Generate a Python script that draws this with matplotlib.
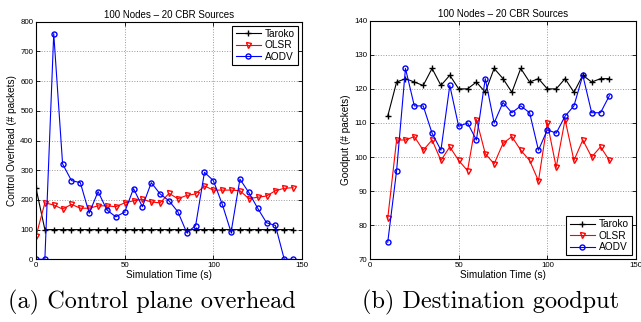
import matplotlib.pyplot as plt
import numpy as np

# control overhead (left)
t_left = list(range(0, 150, 5))
taroko_ovh = [240] + [100] * 29
olsr_ovh = [78, 190, 183, 169, 185, 172, 172, 180, 180, 177, 190, 197, 202, 193, 190,
            222, 204, 215, 220, 247, 233, 233, 233, 231, 204, 209, 213, 231, 239, 241]
aodv_ovh = [0, 0, 760, 321, 265, 258, 155, 228, 166, 143, 159, 238, 177, 258, 220,
            197, 160, 90, 113, 293, 265, 186, 91, 270, 225, 172, 123, 114, 0, 0]

# goodput (right)
t_right = list(range(10, 140, 5))
taroko_gp = [112, 122, 123, 122, 121, 126, 121, 124, 120, 120, 122, 119, 126,
             123, 119, 126, 122, 123, 120, 120, 123, 119, 124, 122, 123, 123]
olsr_gp = [82, 105, 105, 106, 102, 105, 99, 103, 99, 96, 111, 101, 98,
           104, 106, 102, 99, 93, 110, 97, 111, 99, 105, 100, 103, 99]
aodv_gp = [75, 96, 126, 115, 115, 107, 102, 121, 109, 110, 105, 123, 110,
           116, 113, 115, 113, 102, 108, 107, 112, 115, 124, 113, 113, 118]

plt.rcParams['font.family'] = ['Liberation Sans', 'DejaVu Sans']
plt.rcParams['font.size'] = 6

fig = plt.figure(figsize=(6.41, 3.22), dpi=100)
W, H = 641.0, 322.0
ax1 = fig.add_axes([36 / W, 1 - 259.3 / H, 266 / W, 237.6 / H])
ax2 = fig.add_axes([370 / W, 1 - 259.3 / H, 266 / W, 238.6 / H])


def style(ax):
    ax.grid(True, linestyle=':', color='#999999', linewidth=0.7)
    ax.tick_params(direction='in', length=3, width=0.6, labelsize=5.7, pad=2,
                   top=True, right=True)
    for s in ax.spines.values():
        s.set_linewidth(0.8)
    ax.set_xlabel('Simulation Time (s)', fontsize=7.2, labelpad=1)
    ax.set_title('100 Nodes \u2013 20 CBR Sources', fontsize=7, pad=3)


def draw(ax, x, a, b, c):
    ax.plot(x, a, color='black', marker='+', markersize=4, linewidth=0.8, label='Taroko')
    ax.plot(x, b, color='red', marker='v', markersize=3.6, markerfacecolor='none',
            linewidth=0.8, label='OLSR')
    ax.plot(x, c, color='blue', marker='o', markersize=3.6, markerfacecolor='none',
            linewidth=0.8, label='AODV')


draw(ax1, t_left, taroko_ovh, olsr_ovh, aodv_ovh)
ax1.set_xlim(0, 150)
ax1.set_ylim(0, 800)
ax1.set_xticks([0, 50, 100, 150])
ax1.set_yticks(range(0, 801, 100))
ax1.set_ylabel('Control Overhead (# packets)', fontsize=7.2, labelpad=2)
style(ax1)
lg1 = ax1.legend(loc='upper right', fontsize=7.3, fancybox=False, edgecolor='black',
                 framealpha=1, borderpad=0.3, labelspacing=0.15, handlelength=2.5,
                 handletextpad=0.4, borderaxespad=0.4)
lg1.get_frame().set_linewidth(0.8)

draw(ax2, t_right, taroko_gp, olsr_gp, aodv_gp)
ax2.set_xlim(0, 150)
ax2.set_ylim(70, 140)
ax2.set_xticks([0, 50, 100, 150])
ax2.set_yticks(range(70, 141, 10))
ax2.set_ylabel('Goodput (# packets)', fontsize=7.2, labelpad=2)
style(ax2)
lg2 = ax2.legend(loc='lower right', fontsize=7.3, fancybox=False, edgecolor='black',
                 framealpha=1, borderpad=0.3, labelspacing=0.15, handlelength=2.5,
                 handletextpad=0.4, borderaxespad=0.4)
lg2.get_frame().set_linewidth(0.8)

fig.text(152 / W, 1 - 302 / H, '(a) Control plane overhead', ha='center', va='center',
         fontsize=17.5, family=['cmr10', 'DejaVu Serif'])
fig.text(491 / W, 1 - 302 / H, '(b) Destination goodput', ha='center', va='center',
         fontsize=17.5, family=['cmr10', 'DejaVu Serif'])

fig.savefig('out.png', dpi=100)
